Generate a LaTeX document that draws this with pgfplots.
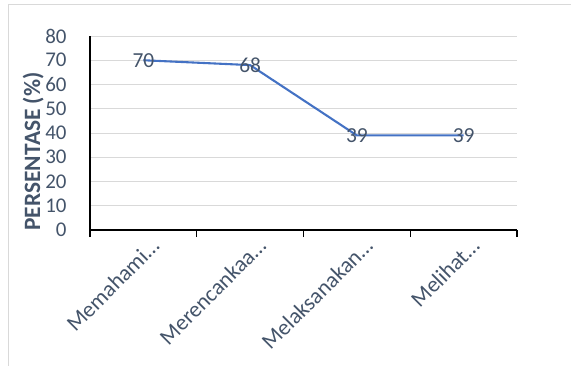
\documentclass[border=0pt]{standalone}
\usepackage{fontspec}
\setmainfont{Carlito}
\usepackage{pgfplots}
\pgfplotsset{compat=1.18}
\definecolor{txt}{HTML}{44546A}
\definecolor{ln}{HTML}{4472C4}
\definecolor{grd}{HTML}{D9D9D9}
\begin{document}
\begin{tikzpicture}
\useasboundingbox (-90bp,-136bp) rectangle (481bp,230bp);
\begin{axis}[
  at={(0,0)}, anchor=south west,
  scale only axis, width=427bp, height=194bp,
  xmin=-0.5, xmax=3.5, ymin=0, ymax=80,
  axis x line*=bottom, axis y line*=left,
  axis line style={black, line width=1.4pt, -},
  xtick={-0.5,0.5,1.5,2.5,3.5},
  x tick label as interval,
  xticklabels={Memahami…,Merencankaa…,Melaksanakan…,Melihat…},
  xticklabel style={rotate=45, anchor=east, font=\fontsize{22.5}{26}\selectfont, text=txt, xshift=8bp, yshift=-12bp},
  x tick style={black, line width=1.2pt},
  tick align=outside, major tick length=7bp,
  ytick={0,10,...,80},
  y tick style={draw=none},
  yticklabel style={font=\fontsize{21}{25}\selectfont, text=txt, xshift=-13bp},
  /pgf/number format/assume math mode=true,
  ymajorgrids, grid style={grd, line width=0.8pt},
  ylabel={\textbf{PERSENTASE (\%)}},
  ylabel style={at={(axis description cs:-0.133,0.405)}, anchor=center, font=\fontsize{23.5}{28}\selectfont, text=txt},
  clip=false,
]
\addplot[ln, line width=2.1pt, mark=none,
  nodes near coords, every node near coord/.append style={anchor=center, font=\fontsize{21.5}{25}\selectfont, text=txt}]
  coordinates {(0,70) (1,68) (2,39) (3,39)};
\end{axis}
\draw[grd, line width=0.8pt] (-82bp,-136bp) -- (-82bp,226bp) -- (481bp,226bp);
\end{tikzpicture}
\end{document}
